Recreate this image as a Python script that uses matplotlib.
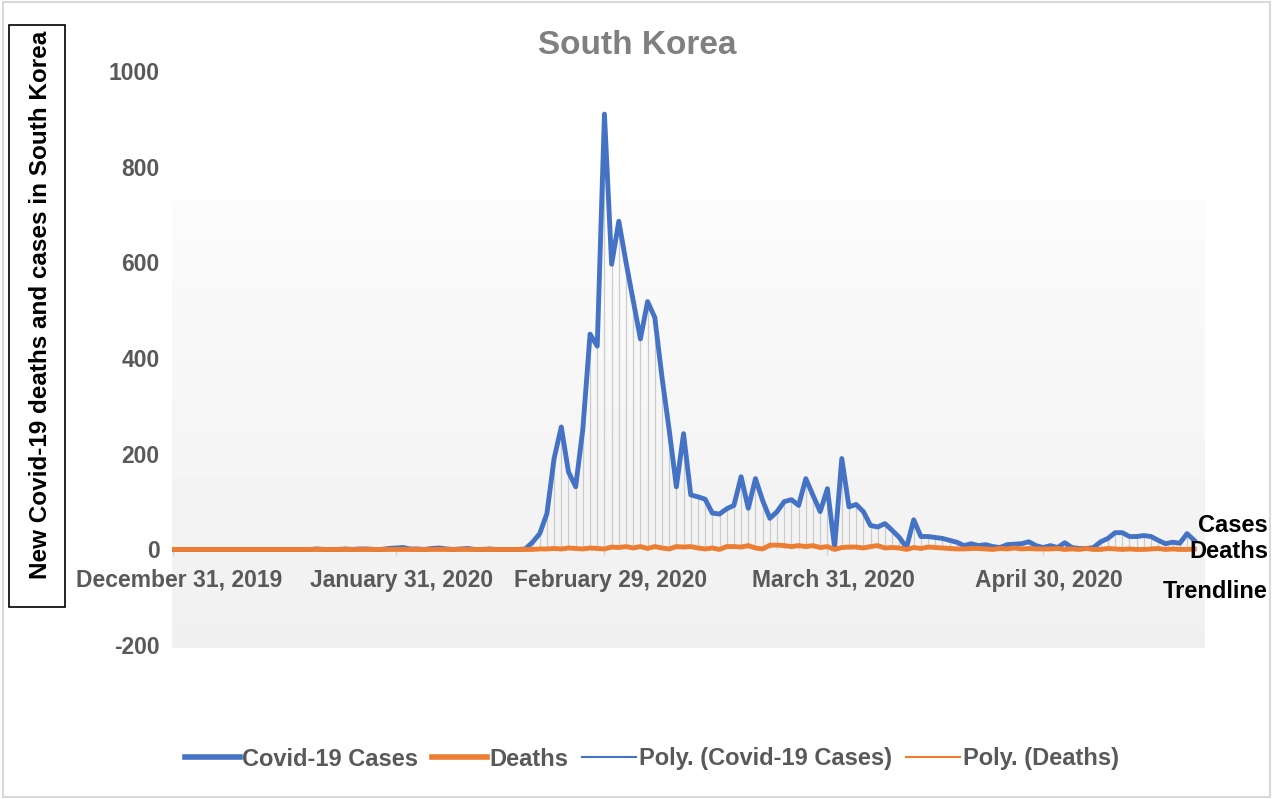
import numpy as np
import pandas as pd
import matplotlib
matplotlib.use("Agg")
import matplotlib.pyplot as plt
import matplotlib.transforms as mtransforms
from matplotlib.lines import Line2D
from matplotlib.patches import Rectangle

plt.rcParams['font.family'] = ['Liberation Sans', 'DejaVu Sans']
plt.rcParams['axes.unicode_minus'] = False

# daily new cases, Dec 31 2019 -> May 21 2020
cases = [
    0, 0, 0, 0, 0, 0, 0, 0, 0, 0,
    0, 0, 0, 0, 0, 0, 0, 0, 0, 0,
    1, 0, 0, 0, 1, 0, 1, 1, 0, 0,
    2, 3, 4, 1, 1, 0, 2, 3, 1, 0,
    1, 2, 0, 0, 1, 0, 0, 0, 0, 1,
    15, 33, 75, 190, 256, 162, 131, 252, 450, 425,
    910, 596, 686, 600, 520, 440, 518, 485, 360, 250,
    131, 242, 114, 110, 105, 76, 74, 85, 92, 152,
    86, 148, 102, 65, 79, 100, 104, 92, 148, 113,
    79, 127, 5, 190, 89, 94, 79, 50, 47, 54,
    40, 25, 4, 62, 27, 27, 25, 23, 19, 15,
    8, 12, 8, 10, 6, 4, 10, 11, 12, 16,
    8, 4, 8, 4, 14, 4, 2, 2, 4, 16,
    23, 35, 35, 27, 27, 29, 27, 19, 12, 15,
    13, 33, 19,
]
deaths = [
    0, 0, 0, 0, 0, 0, 0, 0, 0, 0,
    0, 0, 0, 0, 0, 0, 0, 0, 0, 0,
    0, 0, 0, 0, 0, 0, 0, 0, 0, 0,
    0, 0, 0, 0, 0, 0, 0, 0, 0, 0,
    0, 0, 0, 0, 0, 0, 0, 0, 0, 0,
    0, 1, 1, 2, 1, 3, 2, 1, 3, 2,
    1, 5, 4, 6, 3, 6, 2, 6, 3, 1,
    6, 5, 6, 3, 1, 3, 0, 6, 6, 5,
    8, 3, 1, 9, 9, 8, 6, 8, 6, 8,
    4, 6, 0, 4, 5, 5, 3, 6, 8, 3,
    4, 3, 0, 4, 2, 5, 4, 3, 2, 1,
    1, 2, 2, 1, 0, 2, 1, 3, 1, 2,
    1, 1, 1, 2, 0, 1, 0, 2, 0, 0,
    2, 1, 0, 1, 0, 0, 1, 2, 0, 1,
    0, 0, 1,
]
start_date = "2019-12-31"
tick_dates = ["2019-12-31", "2020-01-31", "2020-02-29", "2020-03-31", "2020-04-30"]
tick_labels = ["December 31, 2019", "January 31, 2020", "February 29, 2020",
               "March 31, 2020", "April 30, 2020"]
y_ticks = [-200, 0, 200, 400, 600, 800, 1000]

BLUE = "#4472C4"
ORANGE = "#ED7D31"
GREY = "#595959"

dates = pd.date_range(start_date, periods=len(cases))

W, H = 1273, 799
fig = plt.figure(figsize=(W / 100, H / 100), dpi=100)
ax = fig.add_axes([172 / W, 1 - 648 / H, 1033 / W, 577 / H])

# soft gradient panel behind the plot
grad = np.linspace(0.94, 0.985, 100).reshape(-1, 1)
ax.imshow(grad, extent=[0, 1, 0, 0.776], transform=ax.transAxes, aspect="auto",
          cmap="gray", vmin=0, vmax=1, origin="lower", zorder=0)

ax.vlines(dates, 0, cases, color="#cccccc", lw=0.9, zorder=1)
ax.plot(dates, cases, color=BLUE, lw=3.5, zorder=3, solid_joinstyle="round")
ax.plot(dates, deaths, color=ORANGE, lw=3.5, zorder=4, solid_joinstyle="round")

ax.set_xlim(dates[0] - pd.Timedelta(hours=3), dates[0] + pd.Timedelta(days=143.5))
ax.set_ylim(-206, 1000)
ax.set_facecolor("white")
for s in ax.spines.values():
    s.set_visible(False)
ax.spines["bottom"].set_position(("data", 0))

ax.set_xticks(pd.to_datetime(tick_dates))
ax.set_xticklabels(tick_labels)
ax.set_yticks(y_ticks)
ax.tick_params(axis="x", length=4, width=1, color="#d0d0d0", pad=10,
               labelsize=16.5, labelcolor=GREY)
ax.tick_params(axis="y", length=0, pad=9, labelsize=16.5, labelcolor=GREY)
shift = mtransforms.ScaledTranslation(6 / 100, 0, fig.dpi_scale_trans)
for lab in ax.get_xticklabels():
    lab.set_transform(lab.get_transform() + shift)
for lab in ax.get_xticklabels() + ax.get_yticklabels():
    lab.set_fontweight("bold")

fig.text(637 / W, 1 - 45 / H, "South Korea", ha="center", va="center",
         fontsize=24, fontweight="bold", color="#808080")

# boxed y label
fig.patches.append(Rectangle((9 / W, 1 - 607 / H), 56 / W, 582 / H,
                             transform=fig.transFigure, fill=False,
                             ec="black", lw=1.2))
fig.text(41 / W, 1 - 305 / H, "New Covid-19 deaths and cases in South Korea",
         rotation=90, ha="center", va="center", fontsize=17.5,
         fontweight="bold", color="black")

# labels at the right end
for txt, yp in [("Cases", 525), ("Deaths", 551), ("Trendline", 592)]:
    fig.text(1268 / W, 1 - yp / H, txt, ha="right", va="center",
             fontsize=17, fontweight="bold", color="black")

handles = [
    Line2D([], [], color=BLUE, lw=4),
    Line2D([], [], color=ORANGE, lw=4),
    Line2D([], [], color=BLUE, lw=1.5),
    Line2D([], [], color=ORANGE, lw=1.5),
]
names = ["Covid-19 Cases", "Deaths", "Poly. (Covid-19 Cases)", "Poly. (Deaths)"]
fig.legend(handles, names, loc="center", bbox_to_anchor=(652 / W, 1 - 759 / H),
           ncol=4, frameon=False, handlelength=2.3, handletextpad=0.1,
           columnspacing=0.6, prop={"size": 17, "weight": "bold"},
           labelcolor=GREY)

fig.patches.append(Rectangle((0.002, 0.003), 0.996, 0.994,
                             transform=fig.transFigure, fill=False,
                             ec="#d9d9d9", lw=1.5))

fig.savefig("out.png", dpi=100)
